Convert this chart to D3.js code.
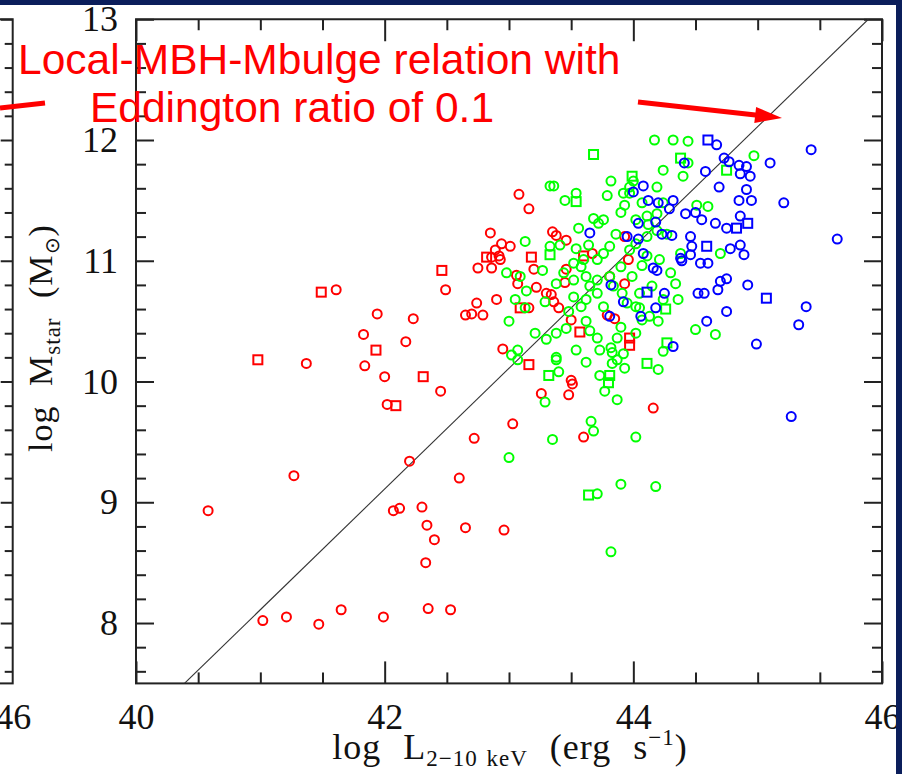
<!DOCTYPE html>
<html><head><meta charset="utf-8">
<script src="https://cdn.jsdelivr.net/npm/d3@7"></script>
<style>body{margin:0;background:#fff;} svg{display:block;}</style>
</head><body>
<svg id="chart" width="902" height="774"></svg>
<script>
// ---------- data (log L_2-10keV, log M_star) ----------
const redCircles = [
 [40.58,8.93],[41.02,8.02],[41.21,8.05],[41.47,7.99],[41.65,8.11],[41.99,8.05],[42.35,8.12],[42.53,8.11],
 [41.27,9.22],[42.07,8.93],[42.12,8.95],[42.30,8.96],[42.34,8.81],[42.40,8.69],[42.33,8.50],[42.65,8.79],
 [42.60,9.20],[42.20,9.34],[42.72,9.53],[42.45,9.92],[42.02,9.81],
 [41.61,10.76],[41.94,10.56],[42.23,10.52],[41.83,10.39],[42.17,10.33],[41.37,10.15],[41.84,10.13],[42.00,10.04],
 [43.50,10.01],[43.51,9.98],[43.26,9.90],[43.48,9.89],[44.16,9.78],[43.03,9.65],[43.60,9.54],[42.96,8.77],
 [43.08,11.55],[43.16,11.43],[42.85,11.23],[43.35,11.24],[43.38,11.21],[43.46,11.17],[42.89,11.09],[42.94,11.14],
 [43.01,11.12],[42.86,11.03],[42.92,11.04],[42.93,11.01],[42.75,10.94],[42.86,10.94],[43.20,10.93],[43.06,10.88],
 [43.46,10.93],[42.49,10.76],[42.74,10.65],[42.90,10.68],[42.65,10.55],[42.70,10.56],[42.79,10.55],[43.07,10.81],
 [43.22,10.78],[43.30,10.73],[43.34,10.72],[43.36,10.66],[43.45,10.82],[43.40,10.61],[43.16,10.61],[43.50,10.51],
 [42.95,10.27],[43.79,10.55],[43.85,10.52],[43.93,11.20],[43.96,11.01],[43.81,10.87],[43.93,10.81],[43.67,11.06]
];
const redSquares = [
 [41.49,10.74],[41.93,10.26],[40.98,10.18],[42.31,10.04],[42.09,9.80],[42.82,11.03],[43.18,11.03],
 [42.46,10.92],[43.60,11.04],[43.09,10.61],[43.57,10.41],[43.97,10.36],[43.97,10.30],[43.16,10.14]
];
const greenCircles = [
 [43.07,10.18],[43.38,10.18],[43.62,10.16],[43.83,10.15],[44.20,10.10],[43.40,10.08],[43.73,10.05],[43.93,10.11],
 [43.77,9.92],[43.87,9.85],[43.29,9.83],[43.66,9.67],[43.68,9.59],[43.35,9.52],[44.02,9.54],[43.00,9.37],
 [43.90,9.15],[44.18,9.13],[43.71,9.07],[43.82,8.59],
 [44.17,12.00],[44.32,12.00],[44.44,11.99],[44.97,11.87],[44.44,11.81],[44.40,11.70],[43.33,11.62],[43.36,11.62],
 [43.82,11.66],[44.00,11.66],[43.97,11.61],[43.54,11.56],[43.45,11.50],[43.79,11.54],[43.92,11.56],[43.93,11.46],
 [44.19,11.61],[44.24,11.75],[44.51,11.46],[44.60,11.45],
 [43.68,11.35],[43.76,11.34],[43.72,11.31],[43.56,11.27],[43.13,11.16],[43.33,11.12],[43.41,11.13],[43.54,11.10],
 [43.64,11.13],[43.60,11.01],[43.71,11.01],[43.76,11.06],[43.81,11.12],
 [42.98,10.90],[43.09,10.87],[43.14,10.75],[43.38,10.81],[43.52,10.84],[43.62,10.87],[43.65,10.79],[43.71,10.84],
 [43.81,10.87],[43.84,10.79],[43.05,10.68],[43.13,10.61],[43.29,10.66],[43.52,10.70],[43.71,10.73],[43.76,10.62],
 [43.58,10.62],[43.62,10.50],[43.46,10.44],[43.38,10.40],[43.30,10.35],[43.21,10.40],[43.00,10.50],[43.07,10.26],
 [43.02,10.22],[43.38,10.20],[43.54,10.26],[43.71,10.36],[43.73,10.26],[43.82,10.28],[43.87,10.18],[43.92,10.23],
 [44.24,10.25],[44.07,10.51],[44.02,10.40],[44.13,10.54],[44.02,10.62],[43.91,10.73],[44.05,10.73],[44.15,10.79],
 [44.24,10.68],[43.99,10.87],[44.07,10.96],[44.11,11.04],[44.21,11.01],[43.97,11.09],[44.02,11.14],[44.11,11.20],
 [44.19,11.25],[44.27,11.22],[44.02,11.34],[44.11,11.37],[44.19,11.39],[44.24,11.48],[44.07,11.48],[43.97,11.56],
 [44.70,11.06],[44.38,11.06],[44.30,10.90],[44.34,10.81],[44.36,10.68],[44.05,10.61],[44.20,10.50],[44.50,10.43],
 [44.66,10.39],[43.87,10.36],[43.83,10.24],
 [43.90,11.40],[43.86,11.22],[44.12,11.30],[43.52,10.98],[43.44,10.90],[43.58,10.95],[43.27,10.92],[43.90,10.95],
 [43.95,10.65],[43.62,10.68],[43.48,10.58],[43.90,10.45],[43.65,10.42]
];
const greenSquares = [
 [44.11,10.15],[43.32,10.05],[43.81,10.05],[43.80,9.99],[43.64,9.06],[43.68,11.88],[43.99,11.70],
 [43.54,11.49],[44.38,11.85],[44.75,11.75],[43.33,11.05],[44.27,10.32],[44.26,10.60]
];
const blueCircles = [
 [44.67,11.96],[45.43,11.92],[44.41,11.81],[44.73,11.85],[44.77,11.82],[44.85,11.79],[44.91,11.78],[45.10,11.81],
 [44.58,11.74],[44.86,11.72],[44.94,11.70],[44.69,11.61],[44.08,11.62],[44.00,11.57],[44.91,11.59],[44.85,11.50],
 [44.95,11.50],[45.21,11.48],[44.12,11.50],[44.20,11.48],[44.29,11.43],[44.32,11.50],[44.42,11.39],[44.50,11.40],
 [44.86,11.37],[44.55,11.34],[44.66,11.31],[44.75,11.27],[45.64,11.18],[44.18,11.32],[44.04,11.31],[43.95,11.20],
 [44.04,11.18],[44.23,11.22],[44.31,11.21],[44.46,11.20],[44.47,11.12],[44.78,11.10],[44.86,11.13],[44.89,11.05],
 [44.54,10.98],[44.60,10.98],[44.38,11.02],[44.08,11.06],[44.16,10.94],[44.19,10.92],[44.25,10.73],[43.82,10.80],
 [43.92,10.66],[43.81,10.54],[44.06,10.54],[44.18,10.61],[44.52,10.73],[44.57,10.73],[44.70,10.83],[44.75,10.85],
 [44.92,10.80],[44.75,10.58],[44.59,10.50],[45.39,10.62],[45.33,10.47],[44.99,10.31],[44.32,10.29],[44.39,11.00],
 [44.46,11.05],[44.68,10.76],[45.27,9.71],[43.65,11.23]
];
const blueSquares = [
 [44.60,12.00],[44.92,11.31],[44.83,11.27],[44.59,11.12],[44.11,10.74],[45.07,10.69]
];
const xMajorTicks = [40,42,44,46];
const xMinorTicks = [40.5,41,41.5,42.5,43,43.5,44.5,45,45.5];
const yMajorTicks = [8,9,10,11,12,13];
const yMinorTicks = [7.6,7.8,8.2,8.4,8.6,8.8,9.2,9.4,9.6,9.8,10.2,10.4,10.6,10.8,
                     11.2,11.4,11.6,11.8,12.2,12.4,12.6,12.8];
const relationOffset = 32.89;   // local relation: log M = log L - offset
const annotationLines = ["Local-MBH-Mbulge relation with", "Eddington ratio of 0.1"];

// ---------- layout ----------
const W = 902, H = 774;
const svg = d3.select("#chart");
svg.append("rect").attr("width", W).attr("height", H).attr("fill", "#fff");
const x = d3.scaleLinear().domain([40, 46]).range([136, 882]);
const y = d3.scaleLinear().domain([7.5, 13]).range([683.4, 19.25]);
const axisColor = "#222";
const serif = "'Liberation Serif','Times New Roman',serif";

function styleAxis(g) {
  g.select(".domain").remove();
  g.selectAll(".tick line").attr("stroke", axisColor).attr("stroke-width", 2);
  g.selectAll(".tick text").attr("font-family", serif).attr("font-size", 36).attr("fill", "#111");
}

// ---------- left (partial) neighbouring panel ----------
const xLeft = d3.scaleLinear().domain([40, 46]).range([12.7 - 746, 12.7]);
const lp = svg.append("g");
lp.append("rect").attr("x", xLeft(40)).attr("y", y(13)).attr("width", xLeft(46) - xLeft(40))
  .attr("height", y(7.5) - y(13)).attr("fill", "none").attr("stroke", axisColor).attr("stroke-width", 2);
lp.append("g").attr("transform", `translate(${xLeft(46)},0)`)
  .call(d3.axisRight(y).tickValues(yMajorTicks).tickSize(-12).tickFormat("")).call(styleAxis);
lp.append("g").attr("transform", `translate(${xLeft(46)},0)`)
  .call(d3.axisRight(y).tickValues(yMinorTicks).tickSize(-8).tickFormat("")).call(styleAxis);
lp.append("g").attr("transform", `translate(0,${y(7.5)})`)
  .call(d3.axisBottom(xLeft).tickValues([46]).tickSize(0).tickPadding(20).tickFormat(d3.format("d"))).call(styleAxis);

// ---------- main panel axes ----------
const g = svg.append("g");
g.append("g").attr("transform", `translate(0,${y(7.5)})`)
  .call(d3.axisBottom(x).tickValues(xMajorTicks).tickSize(-22).tickPadding(20).tickFormat(d3.format("d"))).call(styleAxis);
g.append("g").attr("transform", `translate(0,${y(7.5)})`)
  .call(d3.axisBottom(x).tickValues(xMinorTicks).tickSize(-11).tickFormat("")).call(styleAxis);
g.append("g").attr("transform", `translate(0,${y(13)})`)
  .call(d3.axisTop(x).tickValues(xMajorTicks).tickSize(-22).tickFormat("")).call(styleAxis);
g.append("g").attr("transform", `translate(0,${y(13)})`)
  .call(d3.axisTop(x).tickValues(xMinorTicks).tickSize(-11).tickFormat("")).call(styleAxis);
g.append("g").attr("transform", `translate(${x(40)},0)`)
  .call(d3.axisLeft(y).tickValues(yMajorTicks).tickSize(-18).tickPadding(18).tickFormat(d3.format("d"))).call(styleAxis);
g.append("g").attr("transform", `translate(${x(40)},0)`)
  .call(d3.axisLeft(y).tickValues(yMinorTicks).tickSize(-10).tickFormat("")).call(styleAxis);
g.append("g").attr("transform", `translate(${x(46)},0)`)
  .call(d3.axisRight(y).tickValues(yMajorTicks).tickSize(-18).tickFormat("")).call(styleAxis);
g.append("g").attr("transform", `translate(${x(46)},0)`)
  .call(d3.axisRight(y).tickValues(yMinorTicks).tickSize(-10).tickFormat("")).call(styleAxis);

g.append("rect").attr("x", x(40)).attr("y", y(13)).attr("width", x(46) - x(40)).attr("height", y(7.5) - y(13))
  .attr("fill", "none").attr("stroke", axisColor).attr("stroke-width", 2);

// ---------- relation line ----------
svg.append("clipPath").attr("id", "plotClip").append("rect")
  .attr("x", x(40)).attr("y", y(13)).attr("width", x(46) - x(40)).attr("height", y(7.5) - y(13));
const lineData = [[7.5 + relationOffset, 7.5], [13 + relationOffset, 13]];
g.append("path").attr("clip-path", "url(#plotClip)")
  .attr("d", d3.line().x(d => x(d[0])).y(d => y(d[1]))(lineData))
  .attr("stroke", "#333").attr("stroke-width", 1.1).attr("fill", "none");

// ---------- markers ----------
const mk = g.append("g").attr("fill", "none").attr("stroke-width", 2);
function circles(data, color) {
  mk.append("g").selectAll("circle").data(data).join("circle")
    .attr("cx", d => x(d[0])).attr("cy", d => y(d[1])).attr("r", 4.5).attr("stroke", color);
}
function squares(data, color) {
  mk.append("g").selectAll("rect").data(data).join("rect")
    .attr("x", d => x(d[0]) - 4.5).attr("y", d => y(d[1]) - 4.5).attr("width", 9).attr("height", 9).attr("stroke", color);
}
circles(redCircles, "#ff0000"); squares(redSquares, "#ff0000");
circles(greenCircles, "#00ff00"); squares(greenSquares, "#00ff00");
circles(blueCircles, "#0000ff"); squares(blueSquares, "#0000ff");

// ---------- axis titles ----------
const xl = svg.append("text").attr("x", 510).attr("y", 759).attr("text-anchor", "middle")
  .attr("font-family", serif).attr("font-size", 36).attr("fill", "#111")
  .attr("word-spacing", 12).attr("letter-spacing", 1);
xl.append("tspan").text("log L");
xl.append("tspan").attr("font-size", 23).attr("dy", 7).attr("word-spacing", 2).text("2−10 keV");
xl.append("tspan").attr("dy", -7).text(" (erg s");
xl.append("tspan").attr("font-size", 23).attr("dy", -14).text("−1");
xl.append("tspan").attr("dy", 14).text(")");

const yl = svg.append("text").attr("transform", "translate(52,338) rotate(-90)").attr("text-anchor", "middle")
  .attr("font-family", serif).attr("font-size", 34).attr("fill", "#111")
  .attr("word-spacing", 10).attr("letter-spacing", 1);
yl.append("tspan").text("log M");
yl.append("tspan").attr("font-size", 23).attr("dy", 8).text("star");
yl.append("tspan").attr("dy", -8).text(" (M");
yl.append("tspan").attr("font-size", 20).attr("dy", 7).text("⊙");
yl.append("tspan").attr("dy", -7).text(")");

// ---------- annotation ----------
const red = "#ff0000";
const ann = svg.append("g").attr("fill", red).attr("font-family", "'Liberation Sans',Arial,sans-serif").attr("font-size", 42.5);
ann.append("text").attr("x", 18).attr("y", 74).text(annotationLines[0]);
ann.append("text").attr("x", 90).attr("y", 122).text(annotationLines[1]);
svg.append("line").attr("x1", 0).attr("y1", 108).attr("x2", 45).attr("y2", 103)
  .attr("stroke", red).attr("stroke-width", 5);
svg.append("line").attr("x1", 638).attr("y1", 102).attr("x2", 760).attr("y2", 115.5)
  .attr("stroke", red).attr("stroke-width", 5);
svg.append("path").attr("d", "M782,118 L754.3,123 L756.1,107 Z").attr("fill", red);

// ---------- slide frame ----------
svg.append("rect").attr("x", 0).attr("y", 0).attr("width", W).attr("height", 5).attr("fill", "#0b1e5b");
svg.append("rect").attr("x", 896).attr("y", 0).attr("width", W - 896).attr("height", H).attr("fill", "#0b1e5b");
</script>
</body></html>
